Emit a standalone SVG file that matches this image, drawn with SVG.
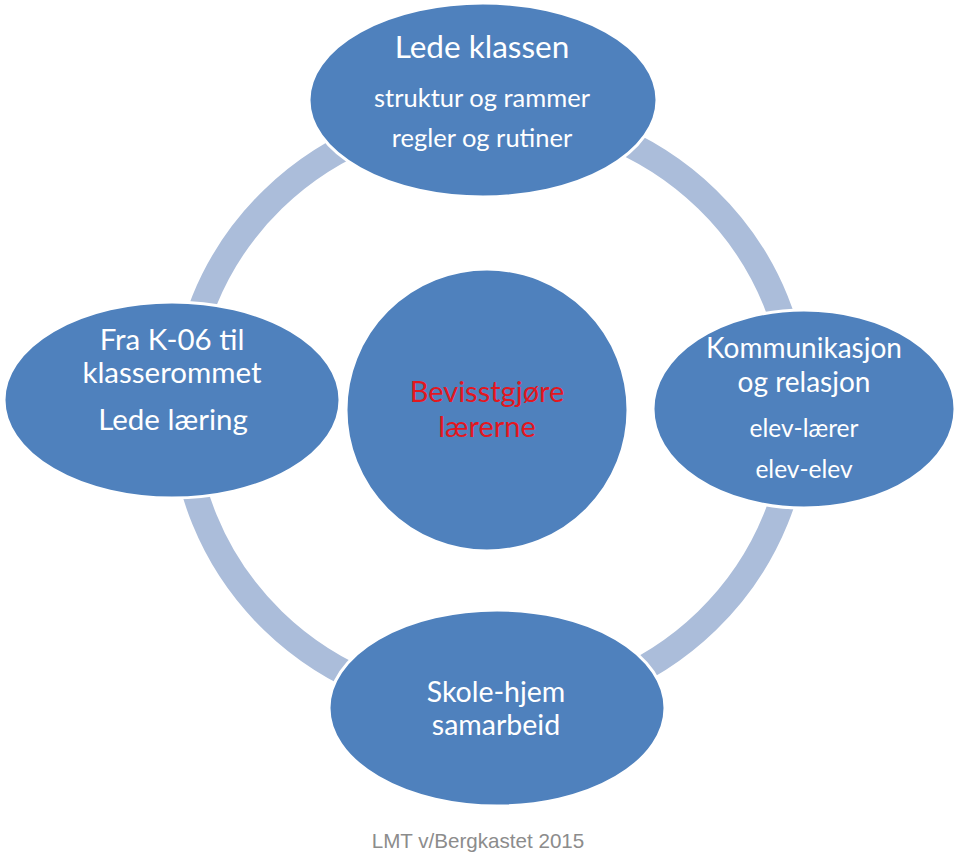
<svg xmlns="http://www.w3.org/2000/svg" width="960" height="853" viewBox="0 0 960 853">
<style>
.node{fill:#4F81BD;stroke:#FFFFFF;stroke-width:3}
.ring{fill:none;stroke:#ABBDDA;stroke-width:26}
.t{font-family:Lato,"Liberation Sans",sans-serif;fill:#FFFFFF;text-anchor:middle}
.red{font-family:Lato,"Liberation Sans",sans-serif;fill:#E3171F;text-anchor:middle}
.foot{font-family:"Liberation Sans",Arial,sans-serif;fill:#8C8C8C;text-anchor:middle}
</style>
<rect width="960" height="853" fill="#FFFFFF"/>
<g id="connectors">
<ellipse class="ring" cx="490" cy="410" rx="307" ry="298"/>
</g>
<g id="center">
<circle class="node" cx="487" cy="410" r="141"/>
<text class="red" x="487" y="402" font-size="29">Bevisstgjøre</text>
<text class="red" x="487" y="437" font-size="29">lærerne</text>
</g>
<g id="top">
<ellipse class="node" cx="483" cy="100" rx="174" ry="97"/>
<text class="t" x="482" y="58" font-size="31.5">Lede klassen</text>
<text class="t" x="482" y="107" font-size="25.5">struktur og rammer</text>
<text class="t" x="482" y="147" font-size="25.5">regler og rutiner</text>
</g>
<g id="left">
<ellipse class="node" cx="172" cy="400" rx="168" ry="98"/>
<text class="t" x="172" y="350" font-size="29.5">Fra K-06 til</text>
<text class="t" x="172" y="383" font-size="29.5">klasserommet</text>
<text class="t" x="173" y="430" font-size="29.5">Lede læring</text>
</g>
<g id="right">
<ellipse class="node" cx="804" cy="409" rx="151" ry="99"/>
<text class="t" x="804" y="358" font-size="28">Kommunikasjon</text>
<text class="t" x="804" y="392" font-size="28">og relasjon</text>
<text class="t" x="804" y="437" font-size="24.5">elev-lærer</text>
<text class="t" x="804" y="478" font-size="24.5">elev-elev</text>
</g>
<g id="bottom">
<ellipse class="node" cx="497" cy="708" rx="168" ry="98"/>
<text class="t" x="496" y="702" font-size="28.5">Skole-hjem</text>
<text class="t" x="496" y="735" font-size="28.5">samarbeid</text>
</g>
<text class="foot" x="478" y="848" font-size="20.6">LMT v/Bergkastet 2015</text>
</svg>
